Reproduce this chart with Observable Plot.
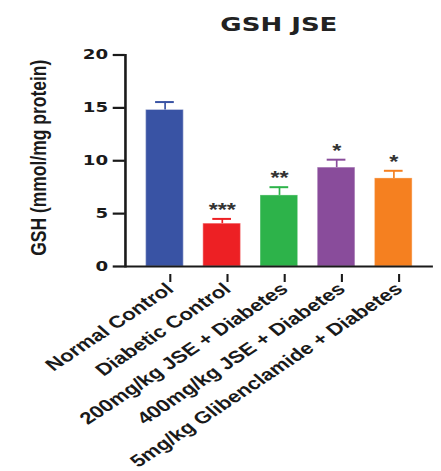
<!DOCTYPE html>
<html>
<head>
<meta charset="utf-8">
<script src="https://cdn.jsdelivr.net/npm/d3@7"></script>
<script src="https://cdn.jsdelivr.net/npm/@observablehq/plot@0.6"></script>
<style>
  html, body { margin: 0; padding: 0; background: #fff; }
  #chart {
    width: 339px;
    transform: scaleX(1.3);
    transform-origin: 0 0;
  }
  #title {
    height: 40px;
    box-sizing: border-box;
    padding: 12px 6px 0 96px;
    line-height: 20px;
    text-align: center;
    font: bold 20px "DejaVu Sans", sans-serif;
    color: #222;
    white-space: nowrap;
  }
  svg { display: block; overflow: visible; }
</style>
</head>
<body>
<div id="chart">
  <div id="title">GSH JSE</div>
</div>
<script>
// Treatment groups, GSH means and SEM, and significance markers
const groups = [
  "Normal Control",
  "Diabetic Control",
  "200mg/kg JSE + Diabetes",
  "400mg/kg JSE + Diabetes",
  "5mg/kg Glibenclamide + Diabetes"
];
const means = [14.8, 4.05, 6.72, 9.35, 8.33];
const errors = [0.75, 0.45, 0.78, 0.75, 0.72];
const stars = ["", "***", "**", "*", "*"];
const colors = ["#3953a4", "#ed2024", "#2db34a", "#894c9b", "#f58020"];
const yTicks = [0, 5, 10, 15, 20];

const rows = groups.map((g, i) => ({
  group: g,
  mean: means[i],
  top: means[i] + errors[i],
  star: stars[i]
}));

const chart = Plot.plot({
  width: 339,
  height: 431,
  marginLeft: 96,
  marginRight: 6,
  marginTop: 14.5,
  marginBottom: 205,
  style: {fontFamily: "Liberation Sans, Arial, sans-serif", color: "#1a1a1a", background: "#fff"},
  x: {domain: groups, padding: 0.34, label: null},
  y: {domain: [0, 20], label: null},
  color: {domain: groups, range: colors},
  marks: [
    Plot.barY(rows, {x: "group", y: "mean", fill: "group", stroke: "#fff", strokeOpacity: 0.35, strokeWidth: 1}),
    Plot.ruleX(rows, {x: "group", y1: "mean", y2: "top", stroke: "group", strokeWidth: 1.3}),
    Plot.tickY(rows, {x: "group", y: "top", stroke: "group", strokeWidth: 2, insetLeft: 7.3, insetRight: 7.3}),
    Plot.text(rows, {x: "group", y: "top", text: "star", lineAnchor: "bottom", dy: -3,
      fontSize: 18, fontWeight: "bold", fill: "#333", letterSpacing: "1.5px"}),
    Plot.axisY({ticks: yTicks, tickSize: 9.3, tickPadding: 4, strokeWidth: 2.2,
      fontSize: 14, fontWeight: "bold", fontFamily: "DejaVu Sans", label: null}),
    Plot.axisX({tickRotate: -41, tickSize: 8, tickPadding: 4, strokeWidth: 1.6, dx: 4, dy: 8,
      fontSize: 17, fontWeight: "bold", label: null}),
    Plot.frame({anchor: "left", strokeWidth: 2}),
    Plot.ruleY([0], {strokeWidth: 2.2}),
    Plot.text(["GSH (mmol/mg protein)"], {frameAnchor: "left", textAnchor: "middle", dx: -67, dy: -3, rotate: -90,
      fontSize: 17.5, fontWeight: "bold", fill: "#1a1a1a"})
  ]
});

document.getElementById("chart").appendChild(chart);
</script>
</body>
</html>
